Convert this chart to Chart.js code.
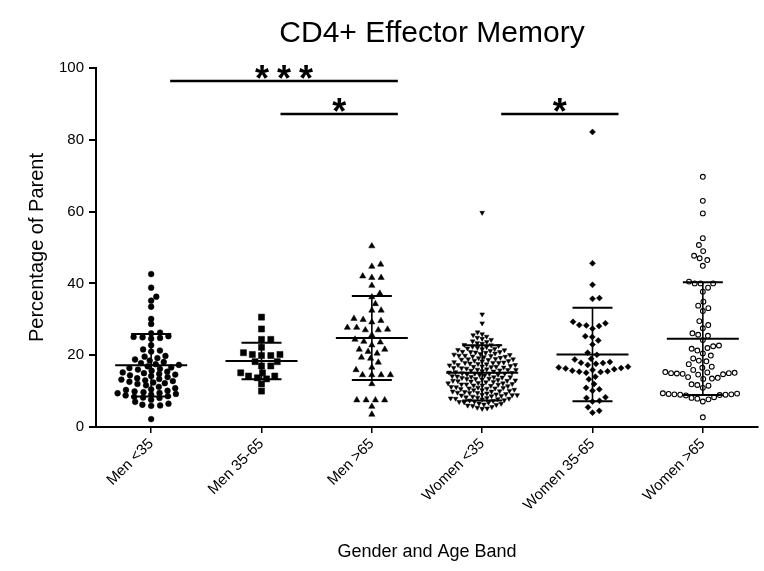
<!DOCTYPE html>
<html>
<head>
<meta charset="utf-8">
<title>CD4+ Effector Memory</title>
<script src="https://cdn.jsdelivr.net/npm/chart.js@4.4.1/dist/chart.umd.min.js"></script>
<style>
  html, body { margin: 0; padding: 0; background: #fff; }
  canvas { display: block; }
</style>
</head>
<body>
<canvas id="memChart" width="764" height="571"></canvas>
<script>
const chartTitle = 'CD4+ Effector Memory';
const groupLabels = ['Men <35', 'Men 35-65', 'Men >65', 'Women <35', 'Women 35-65', 'Women >65'];

// percentage of parent, one value per donor
const menUnder35 = [42.6, 38.8, 36.3, 35.2, 33.5, 30.1, 28.7, 26.3, 26.1, 25.3, 25.1, 25.0, 24.8, 24.6,
  22.8, 21.6, 21.3, 21.0, 19.8, 19.6, 19.2, 18.8, 18.5, 18.1, 17.8, 17.5, 17.3, 16.9, 16.6, 16.4,
  16.2, 16.0, 15.7, 15.4, 15.2, 15.0, 14.8, 14.6, 14.4, 14.2, 13.9, 13.6, 13.4, 13.2, 13.0, 12.8,
  12.6, 12.4, 12.2, 12.0, 11.6, 11.2, 10.8, 10.5, 10.3, 10.1, 9.9, 9.7, 9.5, 9.4, 9.2, 9.0, 8.8,
  8.6, 8.4, 8.2, 8.1, 7.6, 7.0, 6.5, 6.2, 6.0, 5.9, 2.2];
const men35to65 = [30.6, 27.3, 24.4, 24.4, 22.2, 20.7, 20.2, 20.2, 19.9, 19.9, 18.2, 18.2, 17.0, 17.0,
  15.1, 15.1, 14.2, 14.2, 13.7, 13.4, 12.0, 10.0];
const menOver65 = [50.4, 45.3, 44.7, 42.0, 41.6, 41.6, 39.4, 37.2, 36.2, 34.3, 32.5, 32.5, 30.2, 29.9,
  29.6, 29.2, 27.7, 27.7, 27.2, 27.0, 27.0, 25.6, 24.4, 23.8, 23.6, 22.8, 21.6, 21.6, 21.0, 20.5,
  19.4, 19.1, 18.0, 16.6, 15.9, 14.5, 14.5, 14.5, 14.5, 12.0, 7.5, 7.5, 7.5, 7.5, 5.7, 3.5];
const womenUnder35 = [59.7, 31.4, 28.9, 26.4, 25.9, 25.6, 25.2, 24.9, 24.6, 24.3,
  23.9, 23.7, 23.4, 23.2, 22.9, 22.8, 22.6, 22.4, 22.3, 22.1,
  21.9, 21.8, 21.7, 21.5, 21.4, 21.2, 21.0, 20.9, 20.9, 20.8, 20.7, 20.5, 20.4, 20.2, 20.1,
  19.9, 19.9, 19.8, 19.7, 19.6, 19.5, 19.3, 19.2, 19.0, 18.9, 18.9, 18.8, 18.7, 18.5, 18.4, 18.3, 18.1, 18.0,
  17.9, 17.9, 17.9, 17.7, 17.6, 17.5, 17.3, 17.3, 17.2, 17.0, 16.9, 16.8, 16.8, 16.7, 16.6, 16.5, 16.4, 16.3, 16.1, 16.0,
  15.9, 15.9, 15.8, 15.7, 15.6, 15.5, 15.3, 15.2, 15.1, 15.0, 14.9, 14.9, 14.8, 14.7, 14.6, 14.5, 14.4, 14.2, 14.1, 14.0,
  13.9, 13.9, 13.8, 13.7, 13.5, 13.4, 13.4, 13.3, 13.1, 13.0, 12.9, 12.9, 12.8, 12.7, 12.6, 12.5, 12.3, 12.2, 12.2, 12.0,
  11.9, 11.9, 11.8, 11.6, 11.6, 11.5, 11.4, 11.2, 11.1, 11.0, 10.9, 10.8, 10.8, 10.7, 10.6, 10.4, 10.3, 10.3, 10.1, 10.0,
  9.9, 9.9, 9.8, 9.6, 9.5, 9.5, 9.4, 9.2, 9.1, 9.0, 8.9, 8.9, 8.8, 8.7, 8.6, 8.5, 8.3, 8.2, 8.1, 8.0,
  7.9, 7.9, 7.8, 7.7, 7.5, 7.4, 7.3, 7.1, 7.0, 6.9, 6.8, 6.6, 6.5, 6.3, 6.2, 6.0,
  5.9, 5.6, 5.4, 5.2, 5.1];
const women35to65 = [82.2, 45.6, 39.6, 35.9, 35.7, 29.3, 28.9, 28.4, 28.3, 28.1, 27.4, 25.3, 25.1, 24.1,
  23.0, 20.7, 20.1, 19.0, 18.8, 18.1, 17.9, 17.8, 17.6, 17.3, 16.8, 16.6, 16.4, 16.3, 16.1, 15.9,
  15.7, 15.5, 15.4, 15.3, 15.1, 14.0, 13.3, 12.0, 10.9, 10.5, 10.1, 8.3, 8.1, 7.3, 7.1, 5.5, 4.5, 4.0];
const womenOver65 = [69.7, 63.0, 59.5, 52.6, 50.7, 49.0, 47.7, 47.0, 46.5, 44.9, 40.5, 40.0, 40.0, 40.0,
  38.8, 37.7, 34.9, 33.8, 33.1, 32.3, 29.5, 28.4, 27.5, 26.1, 25.7, 25.4, 24.2, 22.7, 22.5, 22.0,
  21.8, 21.3, 20.5, 19.9, 19.1, 18.5, 18.3, 17.5, 16.8, 16.5, 15.9, 15.3, 15.2, 15.1, 15.0, 15.0,
  14.9, 14.8, 14.7, 14.6, 13.9, 13.7, 13.5, 13.4, 11.9, 11.7, 11.5, 10.9, 9.4, 9.3, 9.2, 9.1, 9.1,
  9.0, 9.0, 8.9, 8.8, 8.3, 8.1, 7.9, 7.7, 7.1, 2.7];

// mean and SD for each band
const groupMeans = [17.2, 18.4, 24.8, 15.1, 20.2, 24.6];
const groupSDs = [8.7, 5.1, 11.7, 7.7, 13.0, 15.7];

const yTickValues = [0, 20, 40, 60, 80, 100];

// significance brackets between bands
const comparisons = [
  { from: 0, to: 2, level: 96.4, label: '***' },
  { from: 1, to: 2, level: 87.2, label: '*' },
  { from: 3, to: 4, level: 87.2, label: '*' },
];

const groupValues = [menUnder35, men35to65, menOver65, womenUnder35, women35to65, womenOver65];

const FONT = '"Liberation Sans", Arial, Helvetica, sans-serif';
Chart.defaults.font.family = FONT;
Chart.defaults.color = '#000';

// marker look, plus horizontal / vertical clearance (px) used by the swarm
const markers = [
  { pointStyle: 'circle', radius: 2.9, fill: '#000', gapX: 9, gapY: 4.8 },
  { pointStyle: 'rect', radius: 4.3, fill: '#000', gapX: 9.3, gapY: 6 },
  { pointStyle: 'triangle', radius: 3.6, fill: '#000', gapX: 9.3, gapY: 7 },
  { pointStyle: 'triangle', rotation: 180, radius: 2.7, fill: '#000', gapX: 5, gapY: 4.6 },
  { pointStyle: 'rectRot', radius: 3.0, fill: '#000', gapX: 7, gapY: 7 },
  { pointStyle: 'circle', radius: 2.4, fill: '#fff', gapX: 5.8, gapY: 9 },
];

// greedy beeswarm: lowest values first, each point takes the free spot closest
// to the centre line; the vertical axis is stretched so the clearance is an ellipse
function beeswarm(values, gapX, gapY, pxPerUnit) {
  const stretch = gapX / gapY;
  const d2 = gapX * gapX;
  const placed = [];
  values.slice().sort((a, b) => a - b).forEach(v => {
    const py = v * pxPerUnit * stretch;
    const near = placed.filter(p => Math.abs(p.py - py) < gapX);
    const spots = [0];
    near.forEach(p => {
      const h = Math.sqrt(d2 - (p.py - py) * (p.py - py));
      spots.push(p.px + h, p.px - h);
    });
    spots.sort((a, b) => Math.abs(a) - Math.abs(b));
    const px = spots.find(s => near.every(p => (p.px - s) ** 2 + (p.py - py) ** 2 >= d2 - 1e-6));
    placed.push({ px, py, v });
  });
  return placed;
}

function line(ctx, x1, y1, x2, y2) {
  ctx.beginPath();
  ctx.moveTo(x1, y1);
  ctx.lineTo(x2, y2);
  ctx.stroke();
}

const errorBars = {
  id: 'errorBars',
  afterDatasetsDraw(chart) {
    const { ctx, scales: { x, y } } = chart;
    const meanHalf = 36, capHalf = 20;
    ctx.save();
    ctx.strokeStyle = '#000';
    groupMeans.forEach((m, i) => {
      const cx = x.getPixelForValue(i);
      const top = y.getPixelForValue(m + groupSDs[i]);
      const bottom = y.getPixelForValue(Math.max(0, m - groupSDs[i]));
      const mid = y.getPixelForValue(m);
      ctx.lineWidth = 1.6;
      line(ctx, cx, top, cx, bottom);
      ctx.lineWidth = 2;
      line(ctx, cx - meanHalf, mid, cx + meanHalf, mid);
      line(ctx, cx - capHalf, top, cx + capHalf, top);
      line(ctx, cx - capHalf, bottom, cx + capHalf, bottom);
    });
    ctx.restore();
  },
};

const brackets = {
  id: 'brackets',
  afterDraw(chart) {
    const { ctx, scales: { x, y } } = chart;
    ctx.save();
    ctx.strokeStyle = '#000';
    ctx.fillStyle = '#000';
    ctx.lineWidth = 2.5;
    ctx.font = 'bold 36px ' + FONT;
    ctx.textAlign = 'center';
    ctx.textBaseline = 'alphabetic';
    comparisons.forEach(c => {
      const x1 = x.getPixelForValue(c.from) + 19;
      const x2 = x.getPixelForValue(c.to) + 26;
      const ly = y.getPixelForValue(c.level);
      line(ctx, x1, ly, x2, ly);
      const step = 22;
      const mid = (x1 + x2) / 2;
      [...c.label].forEach((ch, k) => {
        ctx.fillText(ch, mid + (k - (c.label.length - 1) / 2) * step, ly + 10);
      });
    });
    ctx.restore();
  },
};

const plotTitle = {
  id: 'plotTitle',
  afterDraw(chart) {
    const { ctx, chartArea } = chart;
    ctx.save();
    ctx.fillStyle = '#000';
    ctx.font = '30px ' + FONT;
    ctx.textAlign = 'center';
    ctx.textBaseline = 'alphabetic';
    ctx.fillText(chartTitle, (chartArea.left + chartArea.right) / 2 + 5, 42);
    ctx.restore();
  },
};

const chart = new Chart(document.getElementById('memChart'), {
  type: 'scatter',
  data: {
    datasets: markers.map((m, i) => ({
      label: groupLabels[i],
      data: [],
      pointStyle: m.pointStyle,
      rotation: m.rotation || 0,
      radius: m.radius,
      backgroundColor: m.fill,
      borderColor: '#000',
      borderWidth: m.fill === '#fff' ? 1.1 : 0.5,
    })),
  },
  options: {
    responsive: false,
    animation: false,
    events: [],
    layout: { padding: { top: 68, right: 6, left: 0, bottom: 0 } },
    plugins: { legend: { display: false }, tooltip: { enabled: false } },
    scales: {
      x: {
        type: 'linear',
        min: -0.5,
        max: 5.5,
        afterBuildTicks: scale => { scale.ticks = groupLabels.map((_, i) => ({ value: i })); },
        afterFit: scale => { scale.height = 144; },
        ticks: {
          autoSkip: false,
          minRotation: 45,
          maxRotation: 45,
          padding: 2,
          font: { size: 15 },
          callback: (value, index) => groupLabels[index],
        },
        grid: { drawOnChartArea: false, color: '#000', lineWidth: 1.5, tickLength: 6 },
        border: { color: '#000', width: 2 },
        title: {
          display: true,
          text: 'Gender and Age Band',
          font: { size: 18 },
          padding: { top: 0, bottom: 8 },
        },
      },
      y: {
        min: 0,
        max: 100,
        afterBuildTicks: scale => { scale.ticks = yTickValues.map(v => ({ value: v })); },
        afterFit: scale => { scale.width = 96; },
        ticks: { font: { size: 15 }, padding: 5 },
        grid: { drawOnChartArea: false, color: '#000', lineWidth: 2, tickLength: 7 },
        border: { color: '#000', width: 2 },
        title: {
          display: true,
          text: 'Percentage of Parent',
          font: { size: 20 },
          padding: { top: 25, bottom: 0 },
        },
      },
    },
  },
  plugins: [errorBars, brackets, plotTitle],
});

// lay the swarms out now that the scales know their pixel sizes
const xs = chart.scales.x, ys = chart.scales.y;
const pxPerX = xs.getPixelForValue(1) - xs.getPixelForValue(0);
const pxPerY = ys.getPixelForValue(0) - ys.getPixelForValue(1);
groupValues.forEach((vals, i) => {
  const m = markers[i];
  chart.data.datasets[i].data = beeswarm(vals, m.gapX, m.gapY, pxPerY)
    .map(p => ({ x: i + p.px / pxPerX, y: p.v }));
});
chart.update();
</script>
</body>
</html>
